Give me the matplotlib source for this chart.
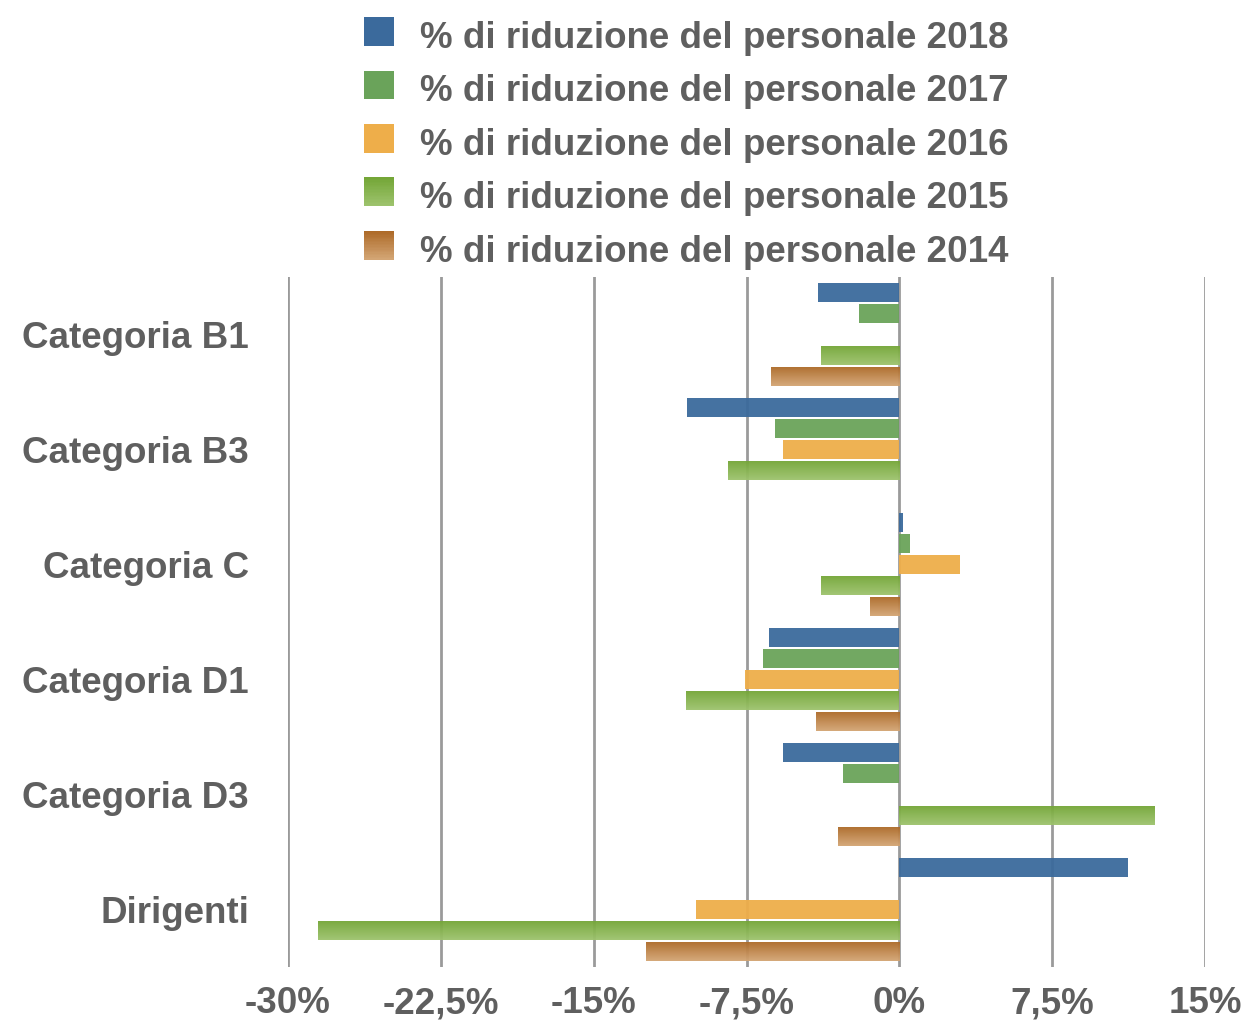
import matplotlib
matplotlib.use("Agg")
import matplotlib.pyplot as plt
import numpy as np
from matplotlib.colors import LinearSegmentedColormap, to_rgb
from matplotlib.patches import Rectangle
from matplotlib.legend_handler import HandlerBase
from matplotlib.ticker import FuncFormatter

categories = ["Categoria B1", "Categoria B3", "Categoria C",
              "Categoria D1", "Categoria D3", "Dirigenti"]
years = ["2018", "2017", "2016", "2015", "2014"]

rid_2018 = [-4.0, -10.4, 0.2, -6.4, -5.7, 11.2]
rid_2017 = [-2.0, -6.1, 0.5, -6.7, -2.75, 0.0]
rid_2016 = [0.0, -5.7, 3.0, -7.55, 0.0, -10.0]
rid_2015 = [-3.85, -8.4, -3.85, -10.45, 12.55, -28.55]
rid_2014 = [-6.3, 0.0, -1.45, -4.1, -3.0, -12.45]
series = [rid_2018, rid_2017, rid_2016, rid_2015, rid_2014]

# solid colour, or (top, bottom) gradient
styles = [
    "#3b6a9c",
    "#6aa35a",
    "#eeae4a",
    ("#74a637", "#9dc36d"),
    ("#ad6a28", "#d3a574"),
]

TEXT = "#5f5f5f"
FS = 26.5
plt.rcParams["font.family"] = ["Liberation Sans", "DejaVu Sans"]
plt.rcParams["font.weight"] = "bold"

fig = plt.figure(figsize=(12.5, 10.21), dpi=100)
ax = fig.add_axes([0.2304, 0.0529, 0.7336, 0.6758])

y = np.arange(len(categories))
step = 0.183
bh = 0.165


def grad_cmap(c):
    return LinearSegmentedColormap.from_list("g", [to_rgb(c[0]), to_rgb(c[1])])


grad = np.linspace(0, 1, 64).reshape(-1, 1)
for i, (vals, st) in enumerate(zip(series, styles)):
    pos = y + (i - 2) * step
    if isinstance(st, str):
        ax.barh(pos, vals, height=bh, color=st, zorder=2, alpha=0.95)
    else:
        bars = ax.barh(pos, vals, height=bh, color="none", zorder=2)
        for b in bars:
            if b.get_width() == 0:
                continue
            x0, x1 = sorted([b.get_x(), b.get_x() + b.get_width()])
            y0, y1 = b.get_y(), b.get_y() + b.get_height()
            ax.imshow(grad, cmap=grad_cmap(st), aspect="auto",
                      extent=[x0, x1, y1, y0], zorder=2, alpha=0.95,
                      interpolation="bilinear")

ax.set_xlim(-30, 15)
ax.set_ylim(len(categories) - 0.5, -0.5)
ax.set_xticks(np.arange(-30, 15.1, 7.5))
ax.xaxis.set_major_formatter(FuncFormatter(lambda v, p: f"{v:g}%".replace(".", ",")))
ax.set_yticks(y)
ax.set_yticklabels(categories)
ax.grid(axis="x", color="#9a9a9a", linewidth=2, zorder=1)
ax.set_axisbelow(True)
for s in ax.spines.values():
    s.set_visible(False)
ax.tick_params(axis="both", length=0, labelsize=FS, labelcolor=TEXT)
ax.tick_params(axis="y", pad=28)
ax.tick_params(axis="x", pad=14)


class GradHandler(HandlerBase):
    def __init__(self, st):
        super().__init__()
        self.st = st

    def create_artists(self, legend, orig, xd, yd, w, h, fs, trans):
        arts = []
        if isinstance(self.st, str):
            arts.append(Rectangle((xd, yd), w, h, facecolor=self.st,
                                  edgecolor="none", transform=trans))
            return arts
        n = 20
        c0, c1 = np.array(to_rgb(self.st[0])), np.array(to_rgb(self.st[1]))
        for k in range(n):
            c = c0 + (c1 - c0) * k / (n - 1)
            arts.append(Rectangle((xd, yd + h - (k + 1) * h / n), w, h / n + 0.3,
                                  facecolor=c, edgecolor="none", transform=trans))
        return arts


handles = [Rectangle((0, 0), 1, 1) for _ in years]
labels = [f"% di riduzione del personale {yr}" for yr in years]
fig.legend(handles, labels, loc="upper center", bbox_to_anchor=(0.549, 0.998),
           frameon=False, fontsize=FS, labelcolor=TEXT, borderpad=0,
           handlelength=0.82, handleheight=0.82, handletextpad=0.72,
           labelspacing=0.5,
           handler_map={h: GradHandler(st) for h, st in zip(handles, styles)})

fig.savefig("out.png", dpi=100)
